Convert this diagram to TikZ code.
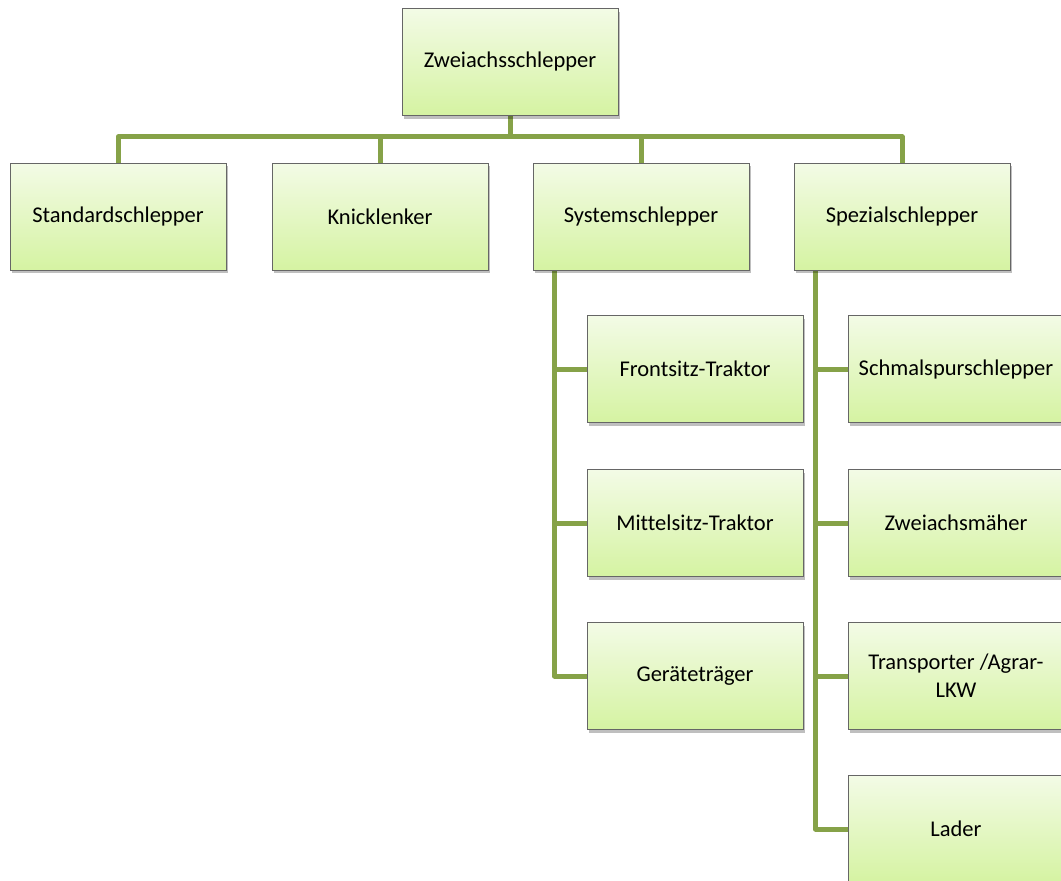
\documentclass[tikz,border=0pt]{standalone}
\usepackage{fontspec}
\setmainfont[Ligatures=NoCommon]{Carlito}
\usetikzlibrary{shadows,backgrounds}
\definecolor{linkgreen}{RGB}{134,162,72}
\definecolor{boxtop}{RGB}{243,251,230}
\definecolor{boxbottom}{RGB}{213,243,162}
\tikzset{greenbox/.style={rectangle,draw=gray!80!black,line width=0.8pt,
    top color=boxtop,bottom color=boxbottom,minimum width=216pt,minimum height=107pt,
    align=center,font=\fontsize{22.5}{28}\selectfont,
    drop shadow={shadow xshift=2pt,shadow yshift=-3pt,opacity=0.25,fill=black}},
  link/.style={draw=linkgreen,line width=5pt,line join=round}}

\begin{document}
\begin{tikzpicture}[x=1pt,y=-1pt]
        \useasboundingbox (0,0) rectangle (1061,881);
        \clip (0,0) rectangle (1061,881);

        \node[greenbox] (root) at (510,62) {Zweiachsschlepper};

        % second row
        \foreach \name/\x/\txt in {std/118/Standardschlepper,knick/380/Knicklenker,
                                   sys/641/Systemschlepper,spez/902/Spezialschlepper}
        {
            \node[greenbox] (\name) at (\x,216.5) {\txt};
        }

        % children of Systemschlepper
        \foreach \name/\y/\txt in {front/369/Frontsitz-Traktor,mittel/523/Mittelsitz-Traktor,
                                   geraet/676/Geräteträger}
        {
            \node[greenbox] (\name) at (695,\y) {\txt};
        }

        % children of Spezialschlepper
        \foreach \name/\y/\txt in {schmal/369/Schmalspurschlepper,maeher/523/Zweiachsmäher,
                                   trans/676/{Transporter /Agrar-\\LKW},lader/829/Lader}
        {
            \node[greenbox] (\name) at (956,\y) {\txt};
        }

        \begin{scope}[on background layer]
        % root to second row
        \foreach \child in {std,knick,sys,spez}
        {
            \draw[link] (root.south) -- ++(0,21) -| (\child.north);
        }

        % Systemschlepper branch
        \foreach \child in {front,mittel,geraet}
        {
            \draw[link] ([xshift=22pt]sys.south west) |- (\child.west);
        }

        % Spezialschlepper branch
        \foreach \child in {schmal,maeher,trans,lader}
        {
            \draw[link] ([xshift=22pt]spez.south west) |- (\child.west);
        }
        \end{scope}
\end{tikzpicture}
\end{document}
